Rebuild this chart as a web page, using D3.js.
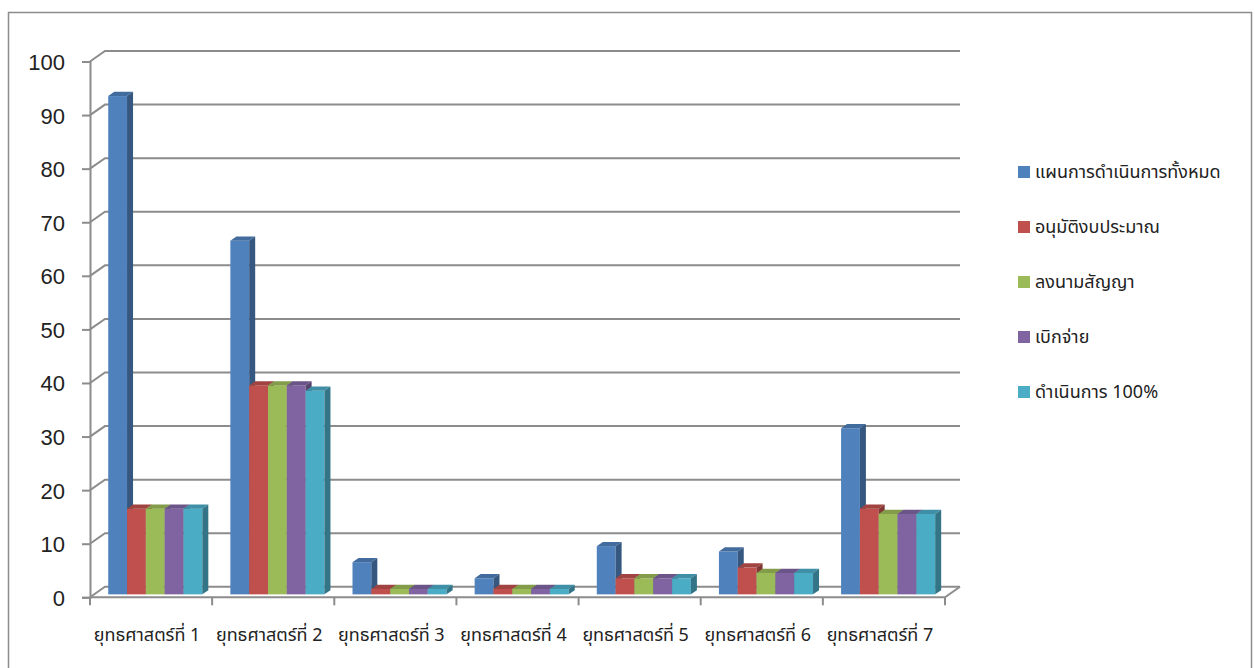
<!DOCTYPE html>
<html>
<head>
<meta charset="utf-8">
<script src="https://cdn.jsdelivr.net/npm/d3@7"></script>
<style>
  body { margin: 0; background: #fff; }
  svg { display: block; }
  .thai { font-family: "Noto Sans Thai", "Tahoma", "Noto Sans", "DejaVu Sans", sans-serif; }
</style>
</head>
<body>
<svg width="1255" height="668"></svg>
<script>
var categories = ["ยุทธศาสตร์ที่ 1", "ยุทธศาสตร์ที่ 2", "ยุทธศาสตร์ที่ 3", "ยุทธศาสตร์ที่ 4",
                  "ยุทธศาสตร์ที่ 5", "ยุทธศาสตร์ที่ 6", "ยุทธศาสตร์ที่ 7"];
var seriesNames = ["แผนการดำเนินการทั้งหมด", "อนุมัติงบประมาณ", "ลงนามสัญญา", "เบิกจ่าย", "ดำเนินการ 100%"];
var seriesColors = ["#4F81BD", "#C0504D", "#9BBB59", "#8064A2", "#4BACC6"];
var planAll   = [93, 66, 6, 3, 9, 8, 31];
var approved  = [16, 39, 1, 1, 3, 5, 16];
var signed    = [16, 39, 1, 1, 3, 4, 15];
var disbursed = [16, 39, 1, 1, 3, 4, 15];
var done100   = [16, 38, 1, 1, 3, 4, 15];
var yTicks = [0, 10, 20, 30, 40, 50, 60, 70, 80, 90, 100];

var seriesValues = [planAll, approved, signed, disbursed, done100];

var svg = d3.select("svg");

// outer frame
svg.append("rect")
  .attr("x", 8.5).attr("y", 12.5)
  .attr("width", 1243).attr("height", 670)
  .attr("fill", "none").attr("stroke", "#8c8c8c").attr("stroke-width", 1.5);

var left = 90, right = 945;
var depth = {dx: 15, dy: -10.5};
var gridColor = "#8c8c8c";

var x = d3.scaleBand().domain(categories).range([left, right]);
var xs = d3.scaleBand().domain(seriesNames).range([0, x.bandwidth()]).paddingOuter(0.745);
var y = d3.scaleLinear().domain([0, 100]).range([597.3, 61.5]);

// back gridlines + slants
var grid = svg.append("g");
yTicks.forEach(function(t) {
  grid.append("path")
    .attr("d", "M" + left + "," + y(t) + "L" + (left + depth.dx) + "," + (y(t) + depth.dy) +
               "L" + (right + depth.dx) + "," + (y(t) + depth.dy))
    .attr("fill", "none").attr("stroke", gridColor).attr("stroke-width", 2);
});
// floor front edge + right slant
svg.append("path")
  .attr("d", "M" + left + "," + y(0) + "L" + right + "," + y(0) + "L" + (right + depth.dx) + "," + (y(0) + depth.dy))
  .attr("fill", "none").attr("stroke", gridColor).attr("stroke-width", 2);

// y axis
var yAxis = svg.append("g")
  .attr("transform", "translate(" + left + ",0)")
  .call(d3.axisLeft(y).tickValues(yTicks).tickSize(8).tickPadding(17));
yAxis.selectAll("line, path").attr("stroke", gridColor).attr("stroke-width", 2);
yAxis.selectAll("text")
  .attr("font-family", "'Liberation Sans', Arial, sans-serif")
  .attr("font-size", 22).attr("fill", "#222").attr("dy", "0.36em");

// x boundary ticks
var bounds = categories.map(function(c) { return x(c); }).concat([right]);
svg.append("g").selectAll("line").data(bounds).join("line")
  .attr("x1", function(d) { return d; }).attr("x2", function(d) { return d; })
  .attr("y1", y(0)).attr("y2", y(0) + 8)
  .attr("stroke", gridColor).attr("stroke-width", 2);

// x labels
svg.append("g").selectAll("text").data(categories).join("text")
  .attr("class", "thai")
  .attr("x", function(d) { return x(d) + x.bandwidth() / 2 - 4; })
  .attr("y", 641)
  .attr("text-anchor", "middle")
  .attr("font-size", 18).attr("fill", "#222")
  .text(function(d) { return d; });

// 3D bars
var bf = 0.28, bb = 0.68; // bar depth position (front, back) relative to floor depth
var bars = svg.append("g");
categories.forEach(function(c, ci) {
  seriesNames.forEach(function(s, si) {
    var v = seriesValues[si][ci];
    var col = d3.color(seriesColors[si]);
    var x0 = x(c) + xs(s) + depth.dx * bf;
    var x1 = x0 + xs.bandwidth();
    var yb = y(0) + depth.dy * bf;
    var yt = y(v) + depth.dy * bf;
    var ox = depth.dx * (bb - bf), oy = depth.dy * (bb - bf);
    var g = bars.append("g");
    g.append("rect")
      .attr("x", x0).attr("y", yt).attr("width", xs.bandwidth()).attr("height", yb - yt)
      .attr("fill", col.formatHex());
    g.append("path")
      .attr("d", "M" + x0 + "," + yt + "L" + (x0 + ox) + "," + (yt + oy) + "L" + (x1 + ox) + "," + (yt + oy) + "L" + x1 + "," + yt + "Z")
      .attr("fill", col.darker(0.5).formatHex());
    g.append("path")
      .attr("d", "M" + x1 + "," + yt + "L" + (x1 + ox) + "," + (yt + oy) + "L" + (x1 + ox) + "," + (yb + oy) + "L" + x1 + "," + yb + "Z")
      .attr("fill", col.darker(1.1).formatHex());
  });
});

// legend
var legend = svg.append("g").selectAll("g").data(seriesNames).join("g")
  .attr("transform", function(d, i) { return "translate(1018," + (172 + i * 55) + ")"; });
legend.append("rect")
  .attr("x", 0).attr("y", -6).attr("width", 12).attr("height", 12)
  .attr("fill", function(d, i) { return seriesColors[i]; });
legend.append("text")
  .attr("class", "thai")
  .attr("x", 17).attr("y", 0).attr("dy", "0.35em")
  .attr("font-size", 18).attr("fill", "#222")
  .text(function(d) { return d; });
</script>
</body>
</html>
